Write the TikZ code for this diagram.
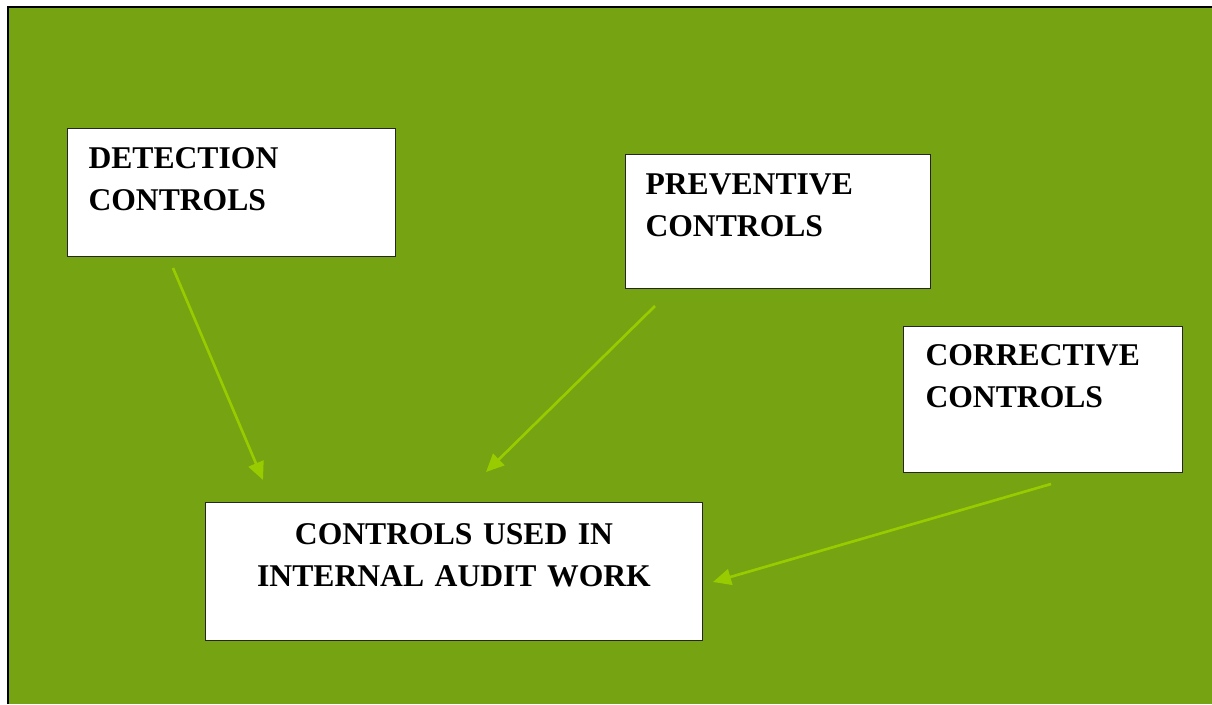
\documentclass[tikz,border=0pt]{standalone}
\usepackage{fontspec}
\setmainfont{Liberation Serif}
\usetikzlibrary{arrows.meta,positioning}
\definecolor{leafgreen}{RGB}{117,163,18}
\definecolor{limearrow}{RGB}{153,204,0}

\begin{document}
\begin{tikzpicture}[>={Triangle[length=0.36cm,width=0.32cm]},
    ctrlbox/.style={draw=black!85,line width=0.6pt,fill=white,anchor=north west,
      inner ysep=0pt,font=\fontsize{18}{24}\selectfont\bfseries},
    feed/.style={->,limearrow,line width=1.5pt}]
  \useasboundingbox (0,0) rectangle (24.24,-14.08);
  % green page with its frame (right and bottom edges run off the page)
  \fill[leafgreen] (0.16,-0.14) rectangle (24.24,-14.08);
  \draw[line width=0.05cm] (0.16,-14.08) -- (0.16,-0.14) -- (24.24,-0.14);
  % the three kinds of control
  \node[ctrlbox,inner xsep=0.42cm,text width=5.72cm,align=left,
        text height=0.80cm,text depth=1.76cm] (detect) at (1.34,-2.56)
        {DETECTION\\CONTROLS};
  \node[ctrlbox,inner xsep=0.40cm,text width=5.30cm,align=left,
        text height=0.80cm,text depth=1.88cm] (prevent) at (12.50,-3.08)
        {PREVENTIVE\\CONTROLS};
  \node[ctrlbox,inner xsep=0.44cm,text width=4.70cm,align=left,
        text height=0.78cm,text depth=2.14cm] (correct) at (18.06,-6.52)
        {CORRECTIVE\\CONTROLS};
  % the target box
  \node[ctrlbox,inner xsep=0pt,text width=9.94cm,align=center,
        text height=0.84cm,text depth=1.92cm] (audit) at (4.10,-10.04)
        {CONTROLS USED IN\\INTERNAL AUDIT WORK};
  % free arrow ends (the arrows stop short of the boxes)
  \coordinate (detTail) at (3.46,-5.36);
  \coordinate (detHead) at (5.26,-9.60);
  \coordinate (prevTail) at (13.10,-6.12);
  \coordinate (prevHead) at (9.72,-9.44);
  \coordinate (corrTail) at (21.02,-9.68);
  \coordinate (corrHead) at (14.26,-11.64);
  \draw[feed] (detTail) -- (detHead);
  \draw[feed] (prevTail) -- (prevHead);
  \draw[feed] (corrTail) -- (corrHead);
\end{tikzpicture}
\end{document}
